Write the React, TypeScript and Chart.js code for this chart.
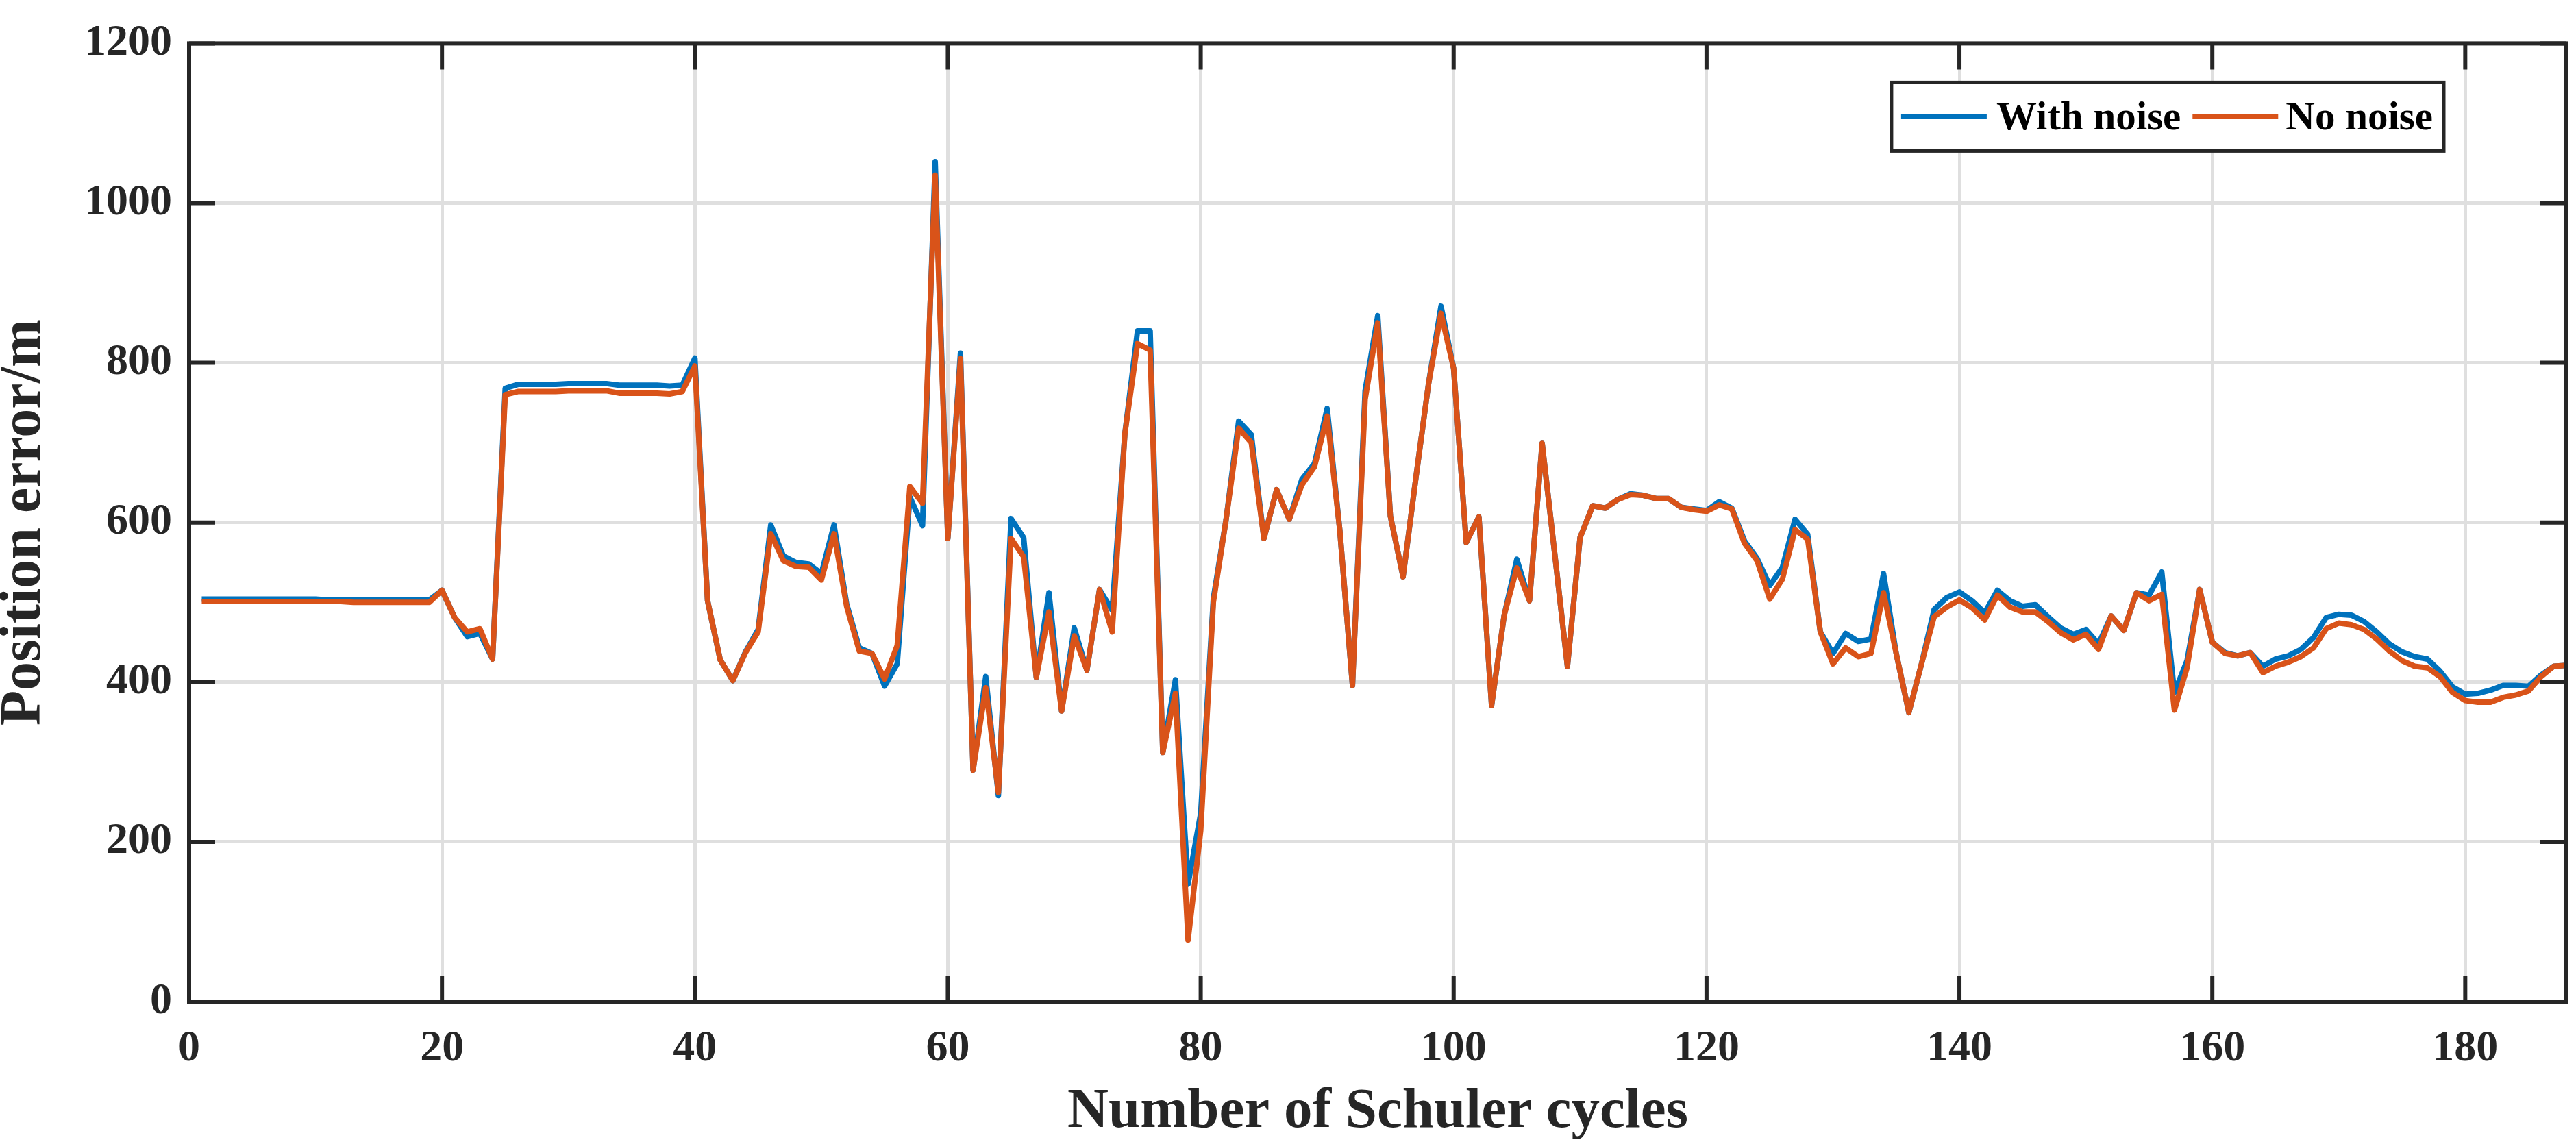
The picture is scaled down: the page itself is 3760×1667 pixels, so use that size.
import React, { useEffect, useRef } from "react";
import { Chart, registerables } from "chart.js";

Chart.register(...registerables);

// ---- data ----
const cycles: number[] = Array.from({ length: 188 }, (_, i) => i + 1);

const withNoise: number[] = [
  504, 504, 504, 504, 504, 504, 504, 504, 504, 504,
  503, 503, 503, 503, 503, 503, 503, 503, 503, 515,
  481, 457, 461, 429, 768, 773, 773, 773, 773, 774,
  774, 774, 774, 772, 772, 772, 772, 771, 772, 806,
  502, 428, 402, 438, 466, 597, 558, 550, 548, 536,
  597, 498, 443, 436, 395, 423, 632, 596, 1052, 580,
  812, 290, 407, 258, 605, 581, 406, 512, 364, 468,
  415, 516, 490, 711, 840, 840, 312, 403, 147, 236,
  505, 603, 727, 710, 580, 641, 604, 654, 674, 743,
  590, 396, 765, 859, 608, 532, 654, 772, 871, 793,
  575, 607, 371, 484, 554, 502, 699, 560, 420, 581,
  621, 618, 629, 636, 634, 630, 630, 619, 617, 615,
  626, 618, 577, 555, 521, 544, 604, 585, 463, 436,
  461, 451, 454, 536, 436, 362, 423, 491, 506, 513,
  502, 487, 515, 502, 495, 497, 482, 468, 460, 466,
  448, 483, 465, 512, 509, 538, 387, 427, 516, 450,
  437, 433, 437, 420, 429, 433, 441, 456, 481, 485,
  484, 476, 463, 448, 438, 432, 429, 414, 394, 385,
  386, 390, 396, 396, 395, 409, 420, 421,
];

const noNoise: number[] = [
  501, 501, 501, 501, 501, 501, 501, 501, 501, 501,
  501, 501, 500, 500, 500, 500, 500, 500, 500, 515,
  481, 463, 467, 429, 760, 764, 764, 764, 764, 765,
  765, 765, 765, 762, 762, 762, 762, 761, 764, 796,
  502, 428, 402, 437, 463, 586, 552, 545, 544, 528,
  586, 495, 439, 436, 404, 446, 645, 624, 1035, 580,
  805, 290, 393, 262, 580, 557, 406, 488, 364, 458,
  415, 516, 463, 711, 824, 816, 312, 386, 77, 214,
  500, 603, 718, 700, 580, 641, 604, 647, 670, 733,
  590, 396, 754, 850, 608, 532, 654, 772, 862, 793,
  575, 607, 371, 484, 543, 502, 699, 560, 420, 581,
  621, 618, 629, 635, 634, 630, 630, 619, 616, 614,
  622, 617, 574, 552, 504, 529, 591, 579, 463, 423,
  443, 432, 436, 512, 436, 362, 423, 482, 494, 503,
  493, 478, 509, 494, 488, 488, 476, 462, 453, 460,
  441, 483, 465, 512, 502, 510, 365, 418, 516, 450,
  436, 433, 437, 412, 420, 425, 432, 443, 467, 474,
  472, 466, 454, 439, 427, 420, 418, 407, 387, 377,
  375, 375, 381, 384, 389, 407, 420, 421,
];

const seriesLabels: string[] = ["With noise", "No noise"];
const seriesColors: string[] = ["#0072BD", "#D95319"];

const xAxisMin = 0;
const xAxisMax = 188;
const xTickStep = 20;
const yAxisMin = 0;
const yAxisMax = 1200;
const yTickStep = 200;

const xTitle = "Number of Schuler cycles";
const yTitle = "Position error/m";

// ---- styling ----
const FONT = "'Liberation Serif', 'Times New Roman', serif";
const AXIS_COLOR = "#262626";
const GRID_COLOR = "#dfdfdf";

const framePlugin = {
  id: "matlabFrame",
  afterDatasetsDraw(chart: any) {
    const { ctx, chartArea, scales } = chart;
    const { left, right, top, bottom } = chartArea;
    const x = scales.x;
    const y = scales.y;
    const tickLen = 38;
    ctx.save();
    ctx.strokeStyle = AXIS_COLOR;
    ctx.lineWidth = 6;
    ctx.lineCap = "butt";
    ctx.beginPath();
    x.ticks.forEach((t: any) => {
      const px = x.getPixelForValue(t.value);
      ctx.moveTo(px, bottom);
      ctx.lineTo(px, bottom - tickLen);
      ctx.moveTo(px, top);
      ctx.lineTo(px, top + tickLen);
    });
    y.ticks.forEach((t: any) => {
      const py = y.getPixelForValue(t.value);
      ctx.moveTo(left, py);
      ctx.lineTo(left + tickLen, py);
      ctx.moveTo(right, py);
      ctx.lineTo(right - tickLen, py);
    });
    ctx.stroke();
    ctx.lineJoin = "miter";
    ctx.strokeRect(left, top, right - left, bottom - top);
    ctx.restore();
  },
};

const legendPlugin = {
  id: "boxedLegend",
  afterDraw(chart: any) {
    const { ctx, chartArea } = chart;
    const datasets = chart.data.datasets;
    const fontSize = 59;
    ctx.save();
    ctx.font = `bold ${fontSize}px ${FONT}`;
    const padL = 14;
    const lineLen = 125;
    const gapsLineText = [14, 11];
    const gapItems = 17;
    const padR = 16;
    const widths = datasets.map((d: any) => ctx.measureText(d.label).width);
    let total = padL + padR;
    widths.forEach((w: number, i: number) => {
      total += lineLen + gapsLineText[i % gapsLineText.length] + w;
      if (i < widths.length - 1) total += gapItems;
    });
    const boxH = 100;
    const boxRight = chartArea.right - 179;
    const boxLeft = boxRight - total;
    const boxTop = chartArea.top + 57;
    ctx.fillStyle = "#ffffff";
    ctx.fillRect(boxLeft, boxTop, total, boxH);
    ctx.strokeStyle = AXIS_COLOR;
    ctx.lineWidth = 5;
    ctx.strokeRect(boxLeft, boxTop, total, boxH);
    const cy = boxTop + boxH / 2;
    let cx = boxLeft + padL;
    datasets.forEach((d: any, i: number) => {
      ctx.strokeStyle = d.borderColor;
      ctx.lineWidth = 7;
      ctx.lineCap = "butt";
      ctx.beginPath();
      ctx.moveTo(cx, cy);
      ctx.lineTo(cx + lineLen, cy);
      ctx.stroke();
      cx += lineLen + gapsLineText[i % gapsLineText.length];
      ctx.fillStyle = "#000000";
      ctx.textBaseline = "middle";
      ctx.textAlign = "left";
      ctx.fillText(d.label, cx, cy + 3);
      cx += widths[i] + gapItems;
    });
    ctx.restore();
  },
};

export default function App() {
  const canvasRef = useRef<HTMLCanvasElement | null>(null);

  useEffect(() => {
    document.body.style.margin = "0";
    const canvas = canvasRef.current;
    if (!canvas) return;
    const chart = new Chart(canvas, {
      type: "line",
      data: {
        datasets: [
          {
            label: seriesLabels[0],
            data: cycles.map((c, i) => ({ x: c, y: withNoise[i] })),
            borderColor: seriesColors[0],
            backgroundColor: seriesColors[0],
            borderWidth: 8,
            pointRadius: 0,
            tension: 0,
            borderJoinStyle: "round",
            order: 1,
          },
          {
            label: seriesLabels[1],
            data: cycles.map((c, i) => ({ x: c, y: noNoise[i] })),
            borderColor: seriesColors[1],
            backgroundColor: seriesColors[1],
            borderWidth: 8,
            pointRadius: 0,
            tension: 0,
            borderJoinStyle: "round",
            order: 0,
          },
        ],
      },
      options: {
        animation: false,
        responsive: false,
        events: [],
        layout: { padding: { top: 30, right: 14, left: 0, bottom: 2 } },
        plugins: {
          legend: { display: false },
          tooltip: { enabled: false },
          title: { display: false },
        },
        scales: {
          x: {
            type: "linear",
            min: xAxisMin,
            max: xAxisMax,
            border: { display: false },
            grid: {
              color: GRID_COLOR,
              lineWidth: 5,
              drawTicks: false,
            },
            ticks: {
              stepSize: xTickStep,
              includeBounds: false,
              color: AXIS_COLOR,
              padding: 31,
              maxRotation: 0,
              font: { family: FONT, size: 64, weight: "bold" },
              callback: (v: any) => String(v),
            },
            title: {
              display: true,
              text: xTitle,
              color: AXIS_COLOR,
              padding: 0,
              font: { family: FONT, size: 83, weight: "bold", lineHeight: 1.0 },
            },
            afterFit(scale: any) {
              scale.height = 203;
            },
          },
          y: {
            type: "linear",
            min: yAxisMin,
            max: yAxisMax,
            border: { display: false },
            grid: {
              color: GRID_COLOR,
              lineWidth: 5,
              drawTicks: false,
            },
            ticks: {
              stepSize: yTickStep,
              color: AXIS_COLOR,
              padding: 25,
              font: { family: FONT, size: 64, weight: "bold" },
              callback: (v: any) => String(v),
            },
            title: {
              display: true,
              text: yTitle,
              color: AXIS_COLOR,
              padding: 0,
              font: { family: FONT, size: 84, weight: "bold", lineHeight: 0.86 },
            },
            afterFit(scale: any) {
              scale.width = 276;
            },
          },
        },
      },
      plugins: [framePlugin, legendPlugin],
    } as any);
    return () => {
      chart.destroy();
    };
  }, []);

  return (
    <canvas
      ref={canvasRef}
      width={3760}
      height={1667}
      style={{ display: "block", width: "3760px", height: "1667px" }}
    />
  );
}
